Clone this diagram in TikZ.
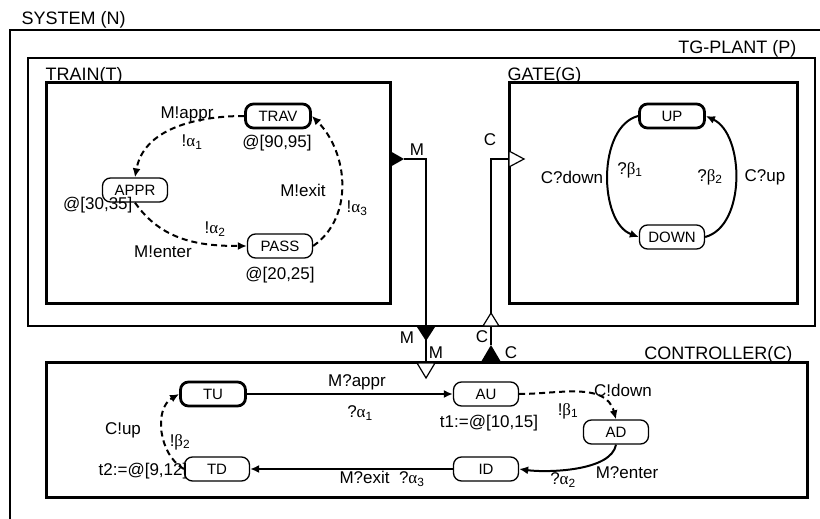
\documentclass[tikz,border=0pt]{standalone}
\usepackage{fontspec}
\setmainfont{Liberation Sans}
\newfontfamily\grk{Liberation Serif}
\usepackage{tikz}
\usetikzlibrary{arrows.meta}

\newcommand{\gsub}[2]{{\grk #1}\textsubscript{#2}}

\begin{document}
\begin{tikzpicture}[x=1pt,y=-1pt,line width=1.2pt,
    state/.style={draw,rounded corners=8pt,minimum width=65pt,minimum height=24pt,inner sep=0pt,line width=1.3pt,font=\fontsize{15}{17}\selectfont},
    initstate/.style={state,line width=2.8pt},
    lbl/.style={inner sep=0pt,font=\fontsize{17}{19}\selectfont},
    boxlbl/.style={inner sep=0pt,font=\fontsize{18}{20}\selectfont},
    trans/.style={line width=2pt,-{Latex[length=9pt,width=8pt]}},
    dtrans/.style={trans,dash pattern=on 6pt off 4pt},
    portline/.style={line width=1.2pt}]
  \useasboundingbox (0,0) rectangle (820,519);

  % boxes
  \draw[line width=1.8pt] (10,525) -- (10,30) -- (825,30);
  \node[boxlbl,anchor=base west] (lsys) at (21,25) {SYSTEM (N)};
  \draw[line width=1.8pt] (28,58) rectangle (815,326);
  \node[boxlbl,anchor=base east] (lplant) at (797,54) {TG-PLANT (P)};
  \draw[line width=3pt] (46,83) rectangle (390,303);
  \node[boxlbl,anchor=base west] (ltrain) at (45,81) {TRAIN(T)};
  \draw[line width=3pt] (509,83) rectangle (797,303);
  \node[boxlbl,anchor=base west] (lgate) at (507,81) {GATE(G)};
  \draw[line width=3pt] (46,362) rectangle (807,497);
  \node[boxlbl,anchor=base east] (lctrl) at (793,359) {CONTROLLER(C)};

  % train
  \node[initstate] (trav) at (278,116) {TRAV};
  \node[state] (appr) at (135,190) {APPR};
  \node[state] (pass) at (280,246) {PASS};
  \draw[dtrans] (trav.west) to[out=180,in=80] (appr.north);
  \draw[dtrans] (appr.south) to[out=-55,in=180] (pass.west);
  \draw[dtrans] (pass.east) to[out=35,in=-45] (trav.east);
  \node[lbl] (l1) at (277,143) {@[90,95]};
  \node[lbl,anchor=north east] (l2) at (133,197) {@[30,35]};
  \node[lbl] (l3) at (280,275) {@[20,25]};
  \node[lbl] (l4) at (187,114) {M!appr};
  \node[lbl] (l5) at (192,142) {!\gsub{α}{1}};
  \node[lbl] (l6) at (215,229) {!\gsub{α}{2}};
  \node[lbl] (l7) at (163,252) {M!enter};
  \node[lbl] (l8) at (303,190) {M!exit};
  \node[lbl] (l9) at (357,208) {!\gsub{α}{3}};

  % gate
  \node[initstate] (up) at (672,116) {UP};
  \node[state] (down) at (672,237) {DOWN};
  \draw[trans] (up.west) to[out=195,in=160,looseness=0.9] (down.west);
  \draw[trans] (down.east) to[out=15,in=-25,looseness=0.9] (up.east);
  \node[lbl] (g1) at (572,177) {C?down};
  \node[lbl] (g2) at (630,170) {?\gsub{β}{1}};
  \node[lbl] (g3) at (710,177) {?\gsub{β}{2}};
  \node[lbl] (g4) at (765,177) {C?up};

  % ports
  \coordinate (mout) at (404,159);
  \coordinate (mbend) at (426,159);
  \coordinate (mplant) at (426,341);
  \coordinate (mctrl) at (426,363);
  \coordinate (cin) at (509,159);
  \coordinate (cbend) at (491,159);
  \coordinate (cplant) at (491,313);
  \coordinate (cctrl) at (491,345);
  \draw[portline] (mout) -- (mbend) -- (mplant);
  \draw[portline] (mplant) -- (mctrl);
  \draw[portline] (cin) -- (cbend) -- (cplant);
  \draw[portline] (491,326) -- (cctrl);
  \fill (390,151) -- (390,167) -- (mout) -- cycle;
  \fill (417,327) -- (435,327) -- (mplant) -- cycle;
  \draw[portline,fill=white] (417,363) -- (435,363) -- (426,378) -- cycle;
  \draw[portline,fill=white] (509,151) -- (509,167) -- (524,159) -- cycle;
  \draw[portline,fill=white] (483,326) -- (499,326) -- (cplant) -- cycle;
  \fill (481,362) -- (501,362) -- (cctrl) -- cycle;
  \node[lbl] (p1) at (417,150) {M};
  \node[lbl] (p2) at (490,140) {C};
  \node[lbl] (p3) at (407,338) {M};
  \node[lbl] (p4) at (436,353) {M};
  \node[lbl] (p5) at (482,337) {C};
  \node[lbl] (p6) at (511,353) {C};

  % controller
  \node[initstate] (tu) at (213,394) {TU};
  \node[state] (au) at (486,394) {AU};
  \node[state] (ad) at (616,432) {AD};
  \node[state] (id) at (486,469) {ID};
  \node[state] (td) at (217,469) {TD};
  \draw[trans] (tu) -- (au);
  \draw[dtrans] (au.east) to[out=0,in=105] (ad.north);
  \draw[trans] (ad.south) to[out=-100,in=-8,looseness=0.7] (id.east);
  \draw[trans] (id) -- (td);
  \draw[dtrans] (td.west) to[out=150,in=210] (tu.west);
  \node[lbl] (c1) at (357,382) {M?appr};
  \node[lbl] (c2) at (360,413) {?\gsub{α}{1}};
  \node[lbl] (c3) at (489,423) {t1:=@[10,15]};
  \node[lbl] (c4) at (623,390) {C!down};
  \node[lbl] (c5) at (568,411) {!\gsub{β}{1}};
  \node[lbl] (c6) at (563,480) {?\gsub{α}{2}};
  \node[lbl] (c7) at (627,473) {M?enter};
  \node[lbl] (c8) at (382,479) {M?exit\ \ ?\gsub{α}{3}};
  \node[lbl] (c9) at (123,430) {C!up};
  \node[lbl] (c10) at (180,442) {!\gsub{β}{2}};
  \node[lbl] (c11) at (143,471) {t2:=@[9,12]};
\end{tikzpicture}
\end{document}
